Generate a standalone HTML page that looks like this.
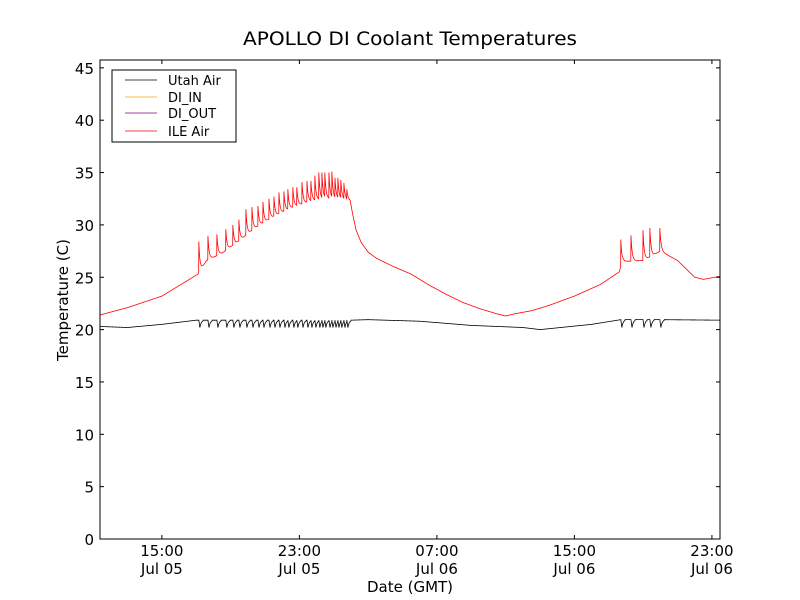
<!DOCTYPE html>
<html><head><meta charset="utf-8"><style>
body{margin:0;background:#fff}
svg{display:block;font-family:"DejaVu Sans","Liberation Sans",sans-serif}
</style></head><body>
<svg id="chart" width="800" height="600" viewBox="0 0 800 600">
<rect width="800" height="600" fill="#fff"/>
<text x="410" y="45" text-anchor="middle" font-size="19" textLength="334" lengthAdjust="spacingAndGlyphs">APOLLO DI Coolant Temperatures</text>
<g id="plot"></g>
<rect x="100" y="60" width="620" height="479" fill="none" stroke="#000" stroke-width="1"/>
<g id="axes"></g>
<text x="410" y="592" text-anchor="middle" font-size="15">Date (GMT)</text>
<text transform="translate(68,300) rotate(-90)" text-anchor="middle" font-size="15">Temperature (C)</text>
<g>
<rect x="112" y="70" width="124" height="72" fill="#fff" stroke="#000" stroke-width="1"/>
<g><line x1="125" y1="80" x2="157" y2="80" stroke="#000" stroke-width="0.8"/><text x="168" y="85" font-size="13">Utah Air</text></g>
<g><line x1="125" y1="97" x2="157" y2="97" stroke="#ffa500" stroke-width="0.8"/><text x="168" y="102" font-size="13">DI_IN</text></g>
<g><line x1="125" y1="113" x2="157" y2="113" stroke="#800080" stroke-width="0.8"/><text x="168" y="118" font-size="13">DI_OUT</text></g>
<g><line x1="125" y1="131" x2="157" y2="131" stroke="#f00" stroke-width="0.8"/><text x="168" y="136" font-size="13">ILE Air</text></g>
</g>
</svg>
<script>
// hours since Jul 05 00:00 GMT
const redBaseT=[11.4,13,15,17.1,17.6,18.5,19.5,20.5,21.5,22.5,23.5,24.5,25.6,25.95,26.1,26.3,26.6,27,27.5,28.5,29.5,30.5,31.5,32.5,33.5,34.5,35,35.5,36.5,37.5,39,40.5,41.6,41.8,43,44,45,46,46.5,47.5];
const redBaseV=[21.4,22.1,23.2,25.3,26.6,27.3,28.5,29.8,30.8,31.6,32.2,32.5,32.4,32.3,31,29.5,28.3,27.4,26.8,26.0,25.3,24.3,23.4,22.6,22.0,21.5,21.3,21.5,21.8,22.3,23.2,24.3,25.5,26.5,26.6,27.5,26.6,25,24.8,25.1];
const spikeT=[17.15,17.68,18.2,18.72,19.13,19.48,19.89,20.24,20.59,20.88,21.23,21.52,21.81,22.1,22.33,22.62,22.85,23.15,23.44,23.67,23.9,24.13,24.31,24.48,24.72,24.89,25.07,25.24,25.41,25.59,25.76,41.7,42.29,42.99,43.39,43.97];
const spikeV=[28.4,28.95,29.1,29.6,30.0,30.5,31.5,31.7,31.8,32.2,32.5,32.7,33.1,33.2,33.4,33.6,33.6,34.1,34.2,34.2,34.7,35.0,35.0,35.0,35.0,35.1,34.5,34.5,34.3,34.0,33.4,28.6,29.0,29.5,29.7,29.7];
const blackBaseT=[11.4,13,15,17,20,23,26,27,30,33,36,37,40,41.7,44,47.5];
const blackBaseV=[20.3,20.2,20.5,20.9,20.9,20.9,20.9,20.95,20.8,20.4,20.2,20.0,20.5,20.95,20.95,20.9];
const blackDipV=20.2;
const yTicks=[0,5,10,15,20,25,30,35,40,45];
const xTickT=[15,23,31,39,47];
const xTickL1=["15:00","23:00","07:00","15:00","23:00"];
const xTickL2=["Jul 05","Jul 05","Jul 06","Jul 06","Jul 06"];

const X0=100,X1=720,Y0=539,Y1=60,TMIN=11.4,TMAX=47.47,VMIN=0,VMAX=45.75;
const xs=t=>X0+(t-TMIN)/(TMAX-TMIN)*(X1-X0);
const ys=v=>Y0-(v-VMIN)/(VMAX-VMIN)*(Y0-Y1);
const NS="http://www.w3.org/2000/svg";
function interp(T,V,t){if(t<=T[0])return V[0];for(let i=1;i<T.length;i++){if(t<=T[i]){const f=(t-T[i-1])/(T[i]-T[i-1]);return V[i-1]+f*(V[i]-V[i-1]);}}return V[V.length-1];}
function spikeEffect(t){
  let best=0,idx=-1;
  for(let i=0;i<spikeT.length;i++){const d=t-spikeT[i];if(d>=0&&d<0.6){const f=Math.exp(-d/0.07);if(f>best){best=f;idx=i;}}}
  return [best,idx];
}
let rd="",bd="";
const step=0.01;
for(let t=TMIN;t<=TMAX+1e-9;t+=step){
  const b=interp(redBaseT,redBaseV,t);
  const [f,i]=spikeEffect(t);
  const v=i>=0?b+(spikeV[i]-b)*f:b;
  rd+=(rd?"L":"M")+xs(t).toFixed(2)+","+ys(v).toFixed(2);
  const bb=interp(blackBaseT,blackBaseV,t);
  let bv=bb;
  if(i>=0){const d=t-spikeT[i];const g=d<0.06?d/0.06:Math.exp(-(d-0.06)/0.08);bv=bb-(bb-blackDipV)*g*(d<0.25?1:0);}
  bd+=(bd?"L":"M")+xs(t).toFixed(2)+","+ys(bv).toFixed(2);
}
const plot=document.getElementById("plot");
const pb=document.createElementNS(NS,"path");
pb.setAttribute("d",bd);pb.setAttribute("fill","none");pb.setAttribute("stroke","#000");pb.setAttribute("stroke-width","0.8");


plot.appendChild(pb);
const pr=document.createElementNS(NS,"path");
pr.setAttribute("d",rd);pr.setAttribute("fill","none");pr.setAttribute("stroke","#f00");pr.setAttribute("stroke-width","0.8");


plot.appendChild(pr);
const axes=document.getElementById("axes");
yTicks.forEach(v=>{
  const y=ys(v);
  const g=document.createElementNS(NS,"g");
  
  
  g.innerHTML=`<line x1="100" y1="${y}" x2="104" y2="${y}" stroke="#000"/><line x1="716" y1="${y}" x2="720" y2="${y}" stroke="#000"/><text x="94" y="${y+6}" text-anchor="end" font-size="15">${v}</text>`;
  axes.appendChild(g);
});
xTickT.forEach((t,i)=>{
  const x=xs(t);
  const g=document.createElementNS(NS,"g");
  
  
  g.innerHTML=`<line x1="${x}" y1="539" x2="${x}" y2="535" stroke="#000"/><line x1="${x}" y1="60" x2="${x}" y2="64" stroke="#000"/><text x="${x}" y="556" text-anchor="middle" font-size="15">${xTickL1[i]}</text><text x="${x}" y="574" text-anchor="middle" font-size="15">${xTickL2[i]}</text>`;
  axes.appendChild(g);
});
</script>
</body></html>
